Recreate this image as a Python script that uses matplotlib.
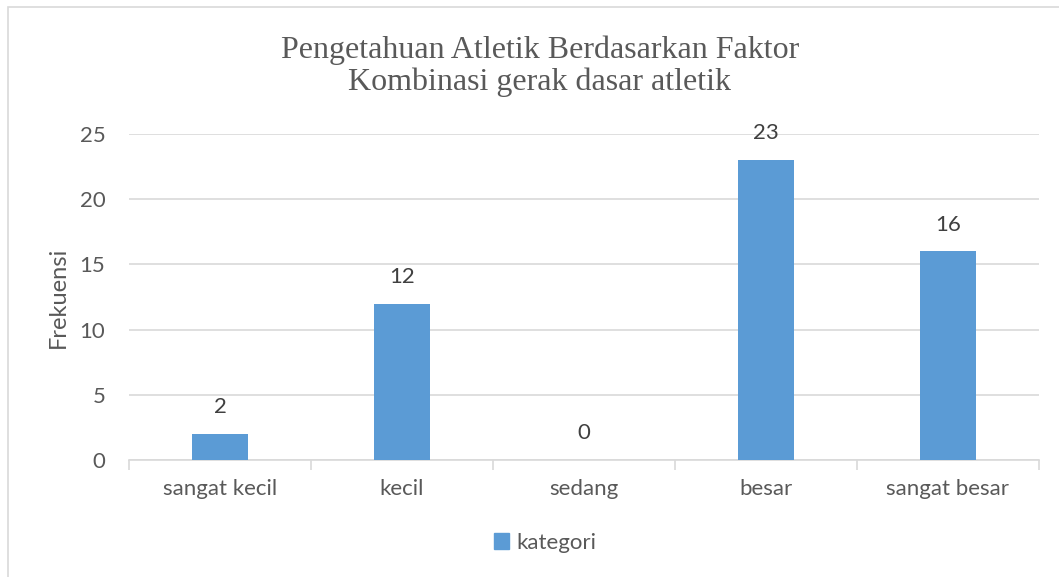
import matplotlib.pyplot as plt
from matplotlib.patches import Rectangle, Patch
import numpy as np

# Data
categories = ['sangat kecil', 'kecil', 'sedang', 'besar', 'sangat besar']
frekuensi = [2, 12, 0, 23, 16]
y_ticks = [0, 5, 10, 15, 20, 25]

bar_color = '#5B9BD5'
text_color = '#595959'
value_color = '#404040'
grid_color = '#D9D9D9'
label_font = 'Lato'

fig = plt.figure(figsize=(10.59, 5.77), dpi=100)

# Chart border (only top and left edge visible in the reference)
fig.patches.append(Rectangle((8 / 1059, -0.1), 1.2, 1 - 7 / 577 + 0.1,
                             transform=fig.transFigure, fill=False,
                             edgecolor='#D9D9D9', linewidth=1.2))

ax = fig.add_axes([129 / 1059, 117 / 577, 910 / 1059, 326 / 577])

x = np.arange(len(categories))
bars = ax.bar(x, frekuensi, width=0.31, color=bar_color, zorder=3)

# Data labels
for xi, v in zip(x, frekuensi):
    ax.annotate(str(v), (xi, v), xytext=(0, 12), textcoords='offset points',
                ha='center', va='bottom', fontsize=16, color=value_color,
                family=label_font)

ax.set_xlim(-0.5, len(categories) - 0.5)
ax.set_ylim(0, 25)
ax.set_yticks(y_ticks)
ax.set_yticklabels([str(t) for t in y_ticks], family=label_font, fontsize=16,
                   color=text_color)
ax.yaxis.grid(True, color=grid_color, linewidth=1.2, zorder=0)
ax.tick_params(axis='y', length=0, pad=17)

# Category labels between boundary ticks
ax.set_xticks(np.arange(-0.5, len(categories), 1))
ax.set_xticklabels([])
ax.set_xticks(x, minor=True)
ax.set_xticklabels(categories, minor=True, family=label_font, fontsize=16,
                   color=text_color)
ax.tick_params(axis='x', which='major', length=7, color=grid_color, width=1.2)
ax.tick_params(axis='x', which='minor', length=0, pad=14)

for s in ['top', 'right', 'left']:
    ax.spines[s].set_visible(False)
ax.spines['bottom'].set_color(grid_color)
ax.spines['bottom'].set_linewidth(1.2)

ax.set_ylabel('Frekuensi', family=label_font, fontsize=17, color=text_color,
              labelpad=8)

fig.text(540 / 1059, 1 - 66 / 577,
         'Pengetahuan Atletik Berdasarkan Faktor\nKombinasi gerak dasar atletik',
         ha='center', va='center', family='Liberation Serif', fontsize=23,
         color=text_color, linespacing=1.1)

fig.legend(handles=[Patch(color=bar_color, label='kategori')],
           loc='center', bbox_to_anchor=(545 / 1059, 1 - 543 / 577),
           frameon=False, handlelength=0.7, handleheight=0.7,
           handletextpad=0.3, prop={'family': label_font, 'size': 16},
           labelcolor=text_color)

fig.savefig('out.png', dpi=100)
